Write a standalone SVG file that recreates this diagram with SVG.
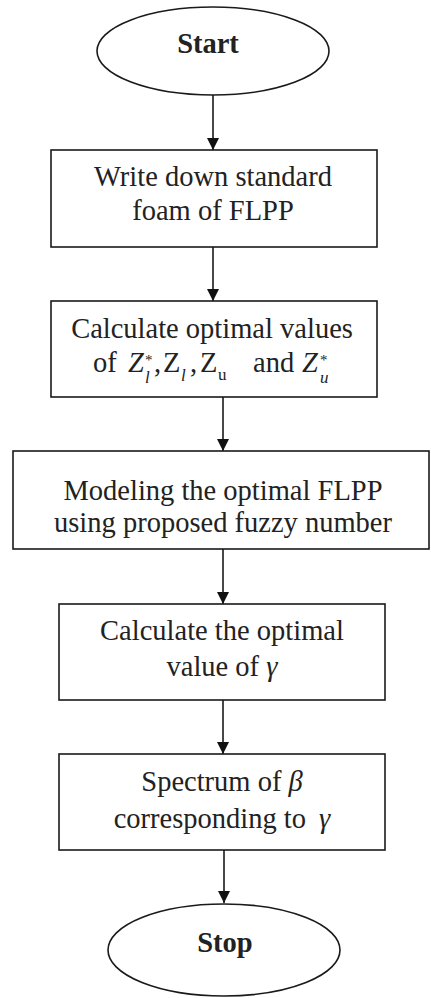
<svg xmlns="http://www.w3.org/2000/svg" width="431" height="998" viewBox="0 0 431 998">
<style>
.s{fill:#fff;stroke:#1a1a1a;stroke-width:1.6}
.t{font-family:"Liberation Serif","Times New Roman",serif;font-size:28.5px;fill:#222}
.b{font-weight:bold}
.c{text-anchor:middle}
.i{font-style:italic}
.sb{font-size:17px}
.sp{font-size:15px}
.e{stroke:#1a1a1a;stroke-width:1.6;fill:none}
</style>
<defs>
<marker id="ah" markerUnits="userSpaceOnUse" markerWidth="14" markerHeight="16" refX="12" refY="7" orient="auto" viewBox="0 0 14 14">
<path d="M0,1 L12,7 L0,13 Z" fill="#111"/>
</marker>
</defs>
<rect width="431" height="998" fill="#fff"/>
<g id="connectors">
<line class="e" x1="213" y1="95" x2="213" y2="150" marker-end="url(#ah)"/>
<line class="e" x1="213" y1="247" x2="213" y2="301" marker-end="url(#ah)"/>
<line class="e" x1="223" y1="397" x2="223" y2="451" marker-end="url(#ah)"/>
<line class="e" x1="223" y1="549" x2="223" y2="604" marker-end="url(#ah)"/>
<line class="e" x1="223" y1="700" x2="223" y2="754" marker-end="url(#ah)"/>
<line class="e" x1="224" y1="850" x2="224" y2="903" marker-end="url(#ah)"/>
</g>
<g id="start">
<ellipse class="s" cx="213" cy="51" rx="116" ry="44"/>
<text class="t b c" x="208" y="53">Start</text>
</g>
<g id="box1">
<rect class="s" x="51" y="150" width="326" height="97"/>
<text class="t c" x="213" y="186">Write down standard</text>
<text class="t c" x="213" y="220">foam of FLPP</text>
</g>
<g id="box2">
<rect class="s" x="51" y="301" width="326" height="96"/>
<text class="t c" x="212" y="338">Calculate optimal values</text>
<text class="t"><tspan x="93" y="372">of</tspan><tspan x="128" y="372" class="i">Z</tspan><tspan x="145" y="365" class="sp">*</tspan><tspan x="145" y="383" class="sb i">l</tspan><tspan x="154" y="372">,</tspan><tspan x="163" y="372">Z</tspan><tspan x="181" y="381" class="sb i">l</tspan><tspan x="190" y="372">,</tspan><tspan x="200" y="372">Z</tspan><tspan x="218" y="380" class="sb">u</tspan><tspan x="253" y="372">and</tspan><tspan x="302" y="372" class="i">Z</tspan><tspan x="320" y="365" class="sp">*</tspan><tspan x="320" y="383" class="sb i">u</tspan></text>
</g>
<g id="box3">
<rect class="s" x="13" y="451" width="416" height="98"/>
<text class="t c" x="223" y="500">Modeling the optimal FLPP</text>
<text class="t c" x="223" y="532">using proposed fuzzy number</text>
</g>
<g id="box4">
<rect class="s" x="59" y="604" width="326" height="96"/>
<text class="t c" x="222" y="640">Calculate the optimal</text>
<text class="t c" x="222" y="676">value of <tspan class="i">γ</tspan></text>
</g>
<g id="box5">
<rect class="s" x="59" y="754" width="326" height="96"/>
<text class="t c" x="222" y="791">Spectrum of <tspan class="i">β</tspan></text>
<text class="t c" x="222" y="828">corresponding to <tspan class="i" dx="6">γ</tspan></text>
</g>
<g id="stop">
<ellipse class="s" cx="224" cy="950" rx="116" ry="46"/>
<text class="t b c" x="225" y="952">Stop</text>
</g>
</svg>
